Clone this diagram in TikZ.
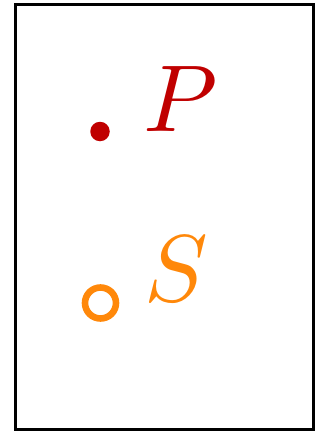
\documentclass[tikz,border=0pt]{standalone}
\definecolor{pred}{RGB}{192,0,0}
\definecolor{sorange}{RGB}{255,136,10}
\begin{document}
\begin{tikzpicture}[x=1pt,y=-1pt,
  lbl/.style={inner sep=0pt,anchor=base west,scale=9.5},
  dotp/.style={circle,fill=pred,inner sep=0pt,minimum size=19.5pt},
  ringS/.style={circle,draw=sorange,line width=6.6pt,inner sep=0pt,minimum size=31pt}]
\useasboundingbox (0,0) rectangle (333,431);
\draw[line width=3pt] (15,4.5) rectangle (313,429);
\node[dotp] (p) at (100,131.5) {};
\node[lbl,text=pred] (P) at (142,131.7) {$P$};
\node[ringS] (s) at (100.5,303) {};
\node[lbl,text=sorange] (S) at (143,301) {$S$};
\end{tikzpicture}
\end{document}
